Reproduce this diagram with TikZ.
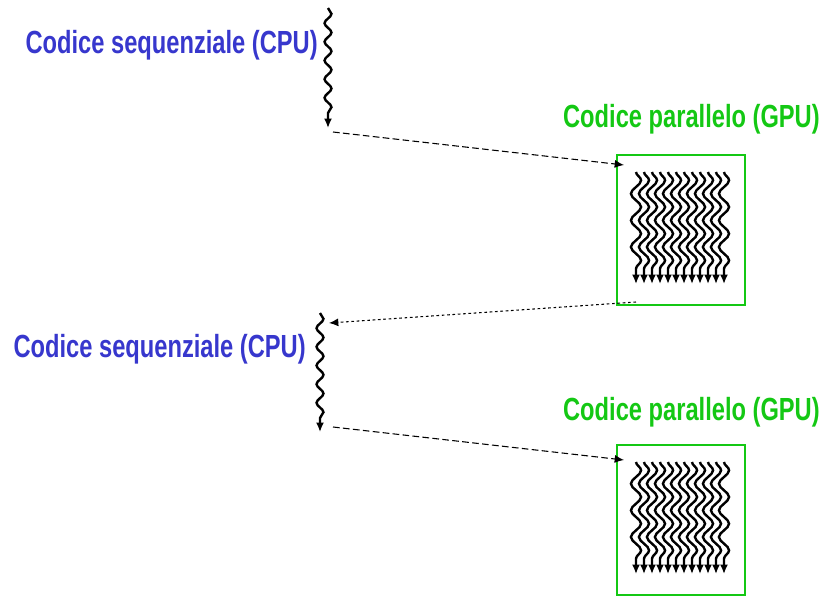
\documentclass[tikz,border=0pt]{standalone}
\usepackage{fontspec}
\setmainfont{Liberation Sans}
\usepackage{graphicx}
\usetikzlibrary{positioning}
\usetikzlibrary{decorations.pathmorphing}
\usetikzlibrary{arrows.meta}
\definecolor{cpublue}{RGB}{55,55,205}
\definecolor{gpugreen}{RGB}{20,200,20}
\newcommand{\narrowtext}[1]{\scalebox{0.74}[1]{#1}}

\tikzset{
  seqlabel/.style={text=cpublue, inner sep=0pt, font=\fontsize{24}{28}\selectfont\bfseries},
  parlabel/.style={text=gpugreen, inner sep=0pt, font=\fontsize{24}{28}\selectfont\bfseries},
  gpubox/.style={draw=gpugreen, line width=1.6pt, minimum width=96pt, minimum height=112.5pt, inner sep=0pt},
  thread/.style={line width=1.8pt, decorate, decoration={snake, segment length=14pt, amplitude=2.6pt, post length=6pt}, -{Latex[length=7pt,width=6pt]}},
  kernel/.style={line width=1.8pt, decorate, decoration={snake, segment length=20pt, amplitude=3.8pt, post length=6pt}, -{Latex[length=7pt,width=6pt]}},
  handoff/.style={line width=0.8pt, dash pattern=on 5pt off 2.5pt, -{Latex[length=7pt,width=6pt]}},
  handback/.style={line width=0.8pt, dash pattern=on 2pt off 2pt, -{Latex[length=7pt,width=6pt]}}
}

\begin{document}
\begin{tikzpicture}[x=0.75pt, y=-0.75pt]
\useasboundingbox (0,0) rectangle (825,597);

% labels
\node [seqlabel, anchor=base east] (cpuA) at (318, 53) {\narrowtext{Codice sequenziale (CPU)}};
\node [seqlabel, anchor=base east] (cpuB) at (306, 357) {\narrowtext{Codice sequenziale (CPU)}};
\node [parlabel, anchor=base east] (gpuA) at (820, 127) {\narrowtext{Codice parallelo (GPU)}};
\node [parlabel, anchor=base east] (gpuB) at (820, 420) {\narrowtext{Codice parallelo (GPU)}};

% boxes
\node [gpubox] (boxA) at (681, 230) {};
\node [gpubox] (boxB) at (681, 520) {};

% sequential threads
\coordinate (cpuAtop) at (328, 8);
\coordinate (cpuAend) at (328, 128);
\coordinate (cpuBtop) at (320, 313);
\coordinate (cpuBend) at (320, 432);
\draw [thread] (cpuAtop) -- (cpuAend);
\draw [thread] (cpuBtop) -- (cpuBend);

% parallel threads
\foreach \top in {172, 462} {
  \foreach \col in {0,...,11}
    \draw [kernel] (636+8*\col, \top) -- (636+8*\col, \top+112);
}

% hand-offs
\coordinate (outA) at (333, 132);
\coordinate (inA) at (624, 165);
\coordinate (retA) at (636, 302);
\coordinate (inB) at (329, 323);
\coordinate (outB) at (333, 427);
\coordinate (inC) at (624, 460);
\draw [handoff] (outA) -- (inA);
\draw [handback] (retA) -- (inB);
\draw [handoff] (outB) -- (inC);

\end{tikzpicture}
\end{document}
